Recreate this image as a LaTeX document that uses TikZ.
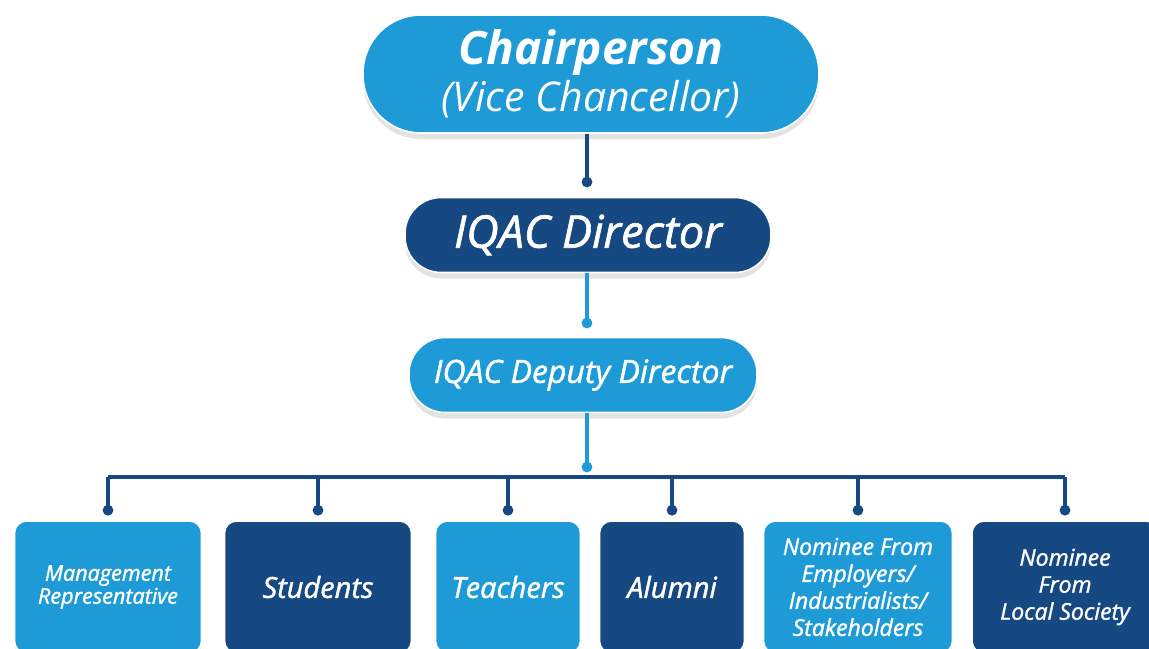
\documentclass[tikz,border=0pt]{standalone}
\usepackage{fontspec}
\setmainfont{Open Sans}
\newfontfamily\medfont{Open Sans}[FakeBold=1.4]
\usepackage{tikz}
\usetikzlibrary{positioning,shadows}
\definecolor{skyblu}{RGB}{30,155,215}
\definecolor{navyblu}{RGB}{22,72,130}

\begin{document}
\begin{tikzpicture}[x=0.5pt, y=-0.5pt,
  pill/.style={rectangle, rounded corners=#1, text=white, align=center, inner sep=0pt,
    draw=white, line width=0.8pt,
    drop shadow={shadow xshift=0pt, shadow yshift=-3pt, opacity=0.18, fill=black!60}},
  member/.style={rectangle, rounded corners=6pt, text=white, align=center, inner sep=0pt,
    minimum height=66pt, draw=white, line width=0.8pt,
    font=\medfont\itshape\fontsize{11.5}{13.5}\selectfont,
    drop shadow={shadow xshift=0pt, shadow yshift=-2pt, opacity=0.15, fill=black!60}},
  bigword/.style={font=\medfont\itshape\fontsize{14.5}{16}\selectfont},
  link/.style={line width=2pt},
  knob/.style={radius=2.7pt}]
\useasboundingbox (0,0) rectangle (1149,648);
\clip (0,0) rectangle (1149,648);

% Top of the chart
\node[pill=29pt, fill=skyblu, minimum width=228pt, minimum height=59pt] (chair) at (591,74)
  {{\bfseries\itshape\fontsize{23}{23.5}\selectfont Chairperson}\\[1.5pt]
   {\itshape\fontsize{20.5}{23.5}\selectfont (Vice Chancellor)}};
\node[pill=18pt, fill=navyblu, minimum width=183pt, minimum height=37.5pt,
  font=\medfont\itshape\fontsize{22.5}{24}\selectfont] (director) at (588,235) {IQAC Director};
\node[pill=18pt, fill=skyblu, minimum width=174pt, minimum height=37.5pt,
  font=\medfont\itshape\fontsize{16}{18}\selectfont] (deputy) at (583,375) {IQAC Deputy Director};

% Members
\node[member, fill=skyblu, minimum width=93.5pt, font=\medfont\itshape\fontsize{10.8}{11.5}\selectfont] (mgmt) at (108,587)
  {Management\\Representative};
\node[member, fill=navyblu, minimum width=93.5pt, bigword] (students) at (318,587) {Students};
\node[member, fill=skyblu, minimum width=72.5pt, bigword] (teachers) at (508,587) {Teachers};
\node[member, fill=navyblu, minimum width=72.5pt, bigword] (alumni) at (672,587) {Alumni};
\node[member, fill=skyblu, minimum width=94.5pt] (employers) at (858,587)
  {Nominee From\\Employers/\\Industrialists/\\Stakeholders};
\node[member, fill=navyblu, minimum width=93pt] (society) at (1065,587)
  {Nominee\\From\\Local Society};

% Connectors
\coordinate (k1) at (587,182);
\coordinate (k2) at (587,323);
\coordinate (k3) at (587,467);
\draw[link, navyblu] (chair.south -| k1) -- (k1);
\fill[navyblu] (k1) circle[knob];
\draw[link, skyblu] (director.south -| k2) -- (k2);
\fill[skyblu] (k2) circle[knob];
\draw[link, skyblu] (deputy.south -| k3) -- (k3);
\coordinate (barL) at (108,477);
\coordinate (barR) at (1065,477);
\draw[link, navyblu] (barL) -- (barR);
\fill[skyblu] (k3) circle[knob];
\foreach \m in {mgmt,students,teachers,alumni,employers,society} {
  \draw[link, navyblu] (barL -| \m.north) -- ([yshift=5pt]\m.north);
  \fill[navyblu] ([yshift=5pt]\m.north) circle[knob];
}
\end{tikzpicture}
\end{document}
